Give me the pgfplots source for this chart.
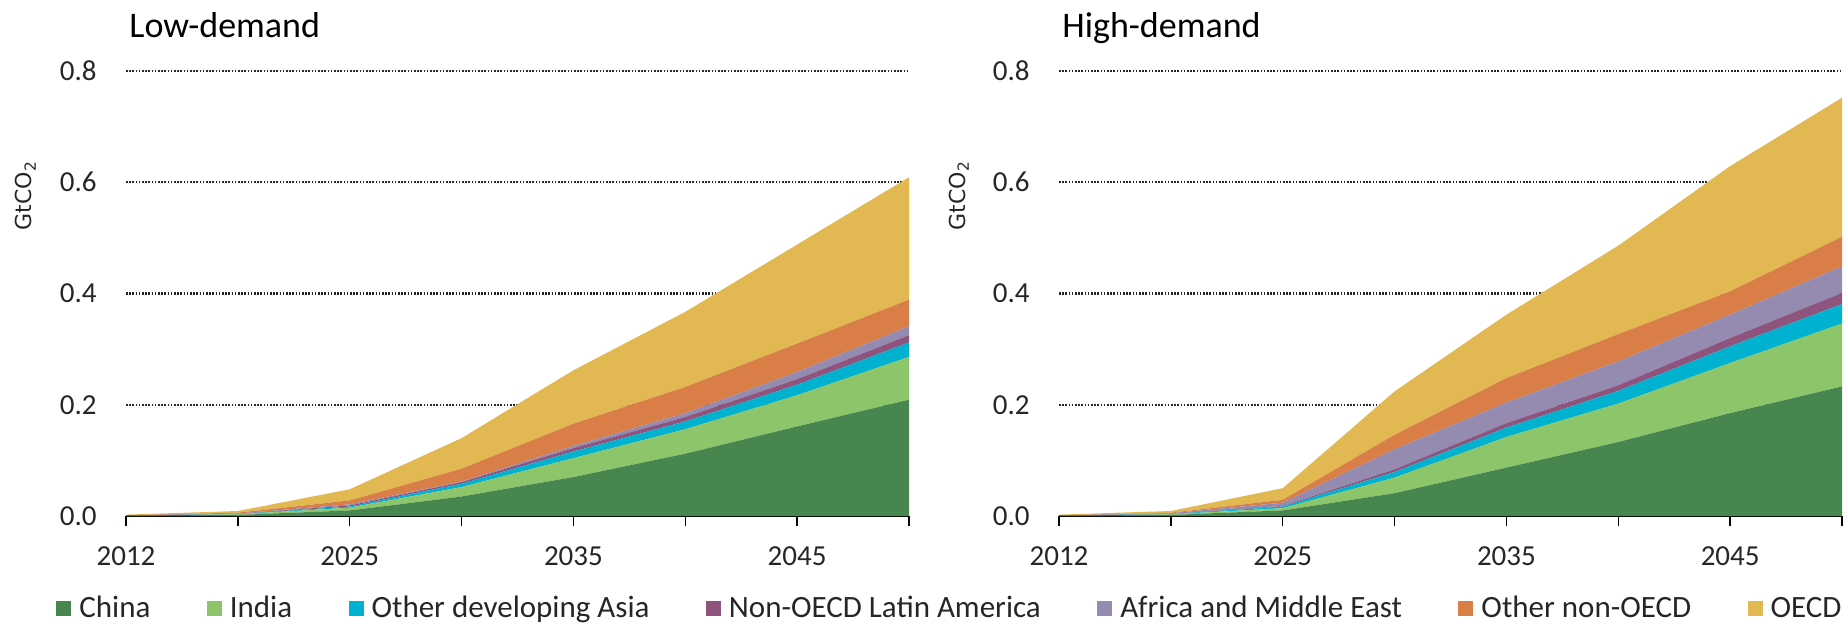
\documentclass[border=0pt]{standalone}
\usepackage{pgfplots}
\pgfplotsset{compat=1.18}
\usepackage{pgfplotstable}
\usepackage{fontspec}
\setmainfont{Carlito}
\newfontfamily\labfont{DejaVu Sans}
\definecolor{cChina}{RGB}{71,134,79}
\definecolor{cIndia}{RGB}{140,197,106}
\definecolor{cODA}{RGB}{0,178,207}
\definecolor{cLat}{RGB}{142,84,125}
\definecolor{cAf}{RGB}{149,139,176}
\definecolor{cOth}{RGB}{216,126,70}
\definecolor{cOECD}{RGB}{226,184,82}
\definecolor{txt}{RGB}{38,38,38}

% increments (stacked), x = category index (2012,2020,2025,...,2050)
\pgfplotstableread{
x china india oda latam afme other oecd
0 0.0005 0.0002 0.0001 0.0001 0.0001 0.0003 0.0012
1 0.002 0.001 0.0005 0.0005 0.0005 0.0015 0.003
2 0.010 0.005 0.002 0.002 0.002 0.007 0.020
3 0.035 0.017 0.006 0.003 0.001 0.023 0.055
4 0.070 0.034 0.012 0.006 0.004 0.040 0.096
5 0.112 0.044 0.014 0.008 0.007 0.047 0.135
6 0.161 0.056 0.019 0.010 0.013 0.051 0.178
7 0.209 0.077 0.026 0.013 0.016 0.048 0.220
}\lowdata
\pgfplotstableread{
x china india oda latam afme other oecd
0 0.0005 0.0002 0.0001 0.0001 0.0001 0.0003 0.0012
1 0.002 0.001 0.0005 0.0005 0.001 0.001 0.003
2 0.010 0.004 0.003 0.001 0.006 0.005 0.021
3 0.041 0.028 0.010 0.005 0.036 0.026 0.078
4 0.087 0.055 0.017 0.008 0.037 0.044 0.114
5 0.133 0.069 0.023 0.010 0.043 0.049 0.159
6 0.185 0.090 0.030 0.015 0.042 0.042 0.225
7 0.233 0.113 0.035 0.020 0.048 0.053 0.250
}\highdata

\pgfplotsset{
  panel/.style={
    at={(#1)}, anchor=south west, scale only axis,
    width=391.5pt, height=222.5pt,
    xmin=0, xmax=7, ymin=0, ymax=0.8,
    stack plots=y,
    axis x line*=bottom, axis y line*=left,
    y axis line style={draw=none},
    x axis line style={line width=0.7pt, black, -},
    xtick={0,1,2,3,4,5,6,7},
    xticklabels={2012,,2025,,2035,,2045,},
    tick align=outside, major tick length=5pt,
    xtick style={black, line width=0.7pt},
    ytick={0,0.2,0.4,0.6,0.8}, ytick style={draw=none},
    ymajorgrids,
    grid style={black!85, line width=1.2pt, dash pattern=on 0.8pt off 0.8pt},
    yticklabel style={/pgf/number format/fixed, /pgf/number format/fixed zerofill,
      /pgf/number format/precision=1, /pgf/number format/assume math mode=true,
      anchor=east, inner sep=0pt, xshift=-9.5pt},
    xticklabel style={anchor=north, inner sep=0pt, yshift=-10pt},
    tick label style={font=\fontsize{14.5}{17}\selectfont, text=txt},
    title style={at={(rel axis cs:0,1)}, anchor=base west, inner sep=0pt,
      xshift=1.5pt, yshift=11pt, font=\fontsize{18}{21}\selectfont, text=black},
    ylabel={\labfont GtCO\textsubscript{2}},
    ylabel style={at={(rel axis cs:-0.128,0.72)}, anchor=center,
      font=\fontsize{11}{13}\selectfont, text=txt},
    every axis plot/.append style={draw=none},
  },
  sq/.style={legend image code/.code={\fill[##1] (0pt,-3.75pt) rectangle (7.5pt,3.75pt);}},
}

\begin{document}
\begin{tikzpicture}
\path[use as bounding box] (0,0) rectangle (924pt,311.5pt);
\begin{axis}[panel={63pt,53.5pt}, title={Low-demand},
  legend columns=7, legend cell align=left,
  legend style={at={(rel axis cs:-0.0894,-0.2080)}, anchor=west,
    draw=none, fill=none, inner sep=0pt, nodes={inner sep=0pt},
    font=\fontsize{15.5}{18}\selectfont, text=txt,
    /tikz/every odd column/.append style={column sep=4pt},
    /tikz/every even column/.append style={column sep=28.2pt}},
]
\addplot[fill=cChina, sq] table[x=x,y=china]{\lowdata} \closedcycle;
\addlegendentry{China}
\addplot[fill=cIndia, sq] table[x=x,y=india]{\lowdata} \closedcycle;
\addlegendentry{India}
\addplot[fill=cODA, sq] table[x=x,y=oda]{\lowdata} \closedcycle;
\addlegendentry{Other developing Asia}
\addplot[fill=cLat, sq] table[x=x,y=latam]{\lowdata} \closedcycle;
\addlegendentry{Non-OECD Latin America}
\addplot[fill=cAf, sq] table[x=x,y=afme]{\lowdata} \closedcycle;
\addlegendentry{Africa and Middle East}
\addplot[fill=cOth, sq] table[x=x,y=other]{\lowdata} \closedcycle;
\addlegendentry{Other non-OECD}
\addplot[fill=cOECD, sq] table[x=x,y=oecd]{\lowdata} \closedcycle;
\addlegendentry{OECD}
\end{axis}
\begin{axis}[panel={529.5pt,53.5pt}, title={High-demand}]
\addplot[fill=cChina] table[x=x,y=china]{\highdata} \closedcycle;
\addplot[fill=cIndia] table[x=x,y=india]{\highdata} \closedcycle;
\addplot[fill=cODA] table[x=x,y=oda]{\highdata} \closedcycle;
\addplot[fill=cLat] table[x=x,y=latam]{\highdata} \closedcycle;
\addplot[fill=cAf] table[x=x,y=afme]{\highdata} \closedcycle;
\addplot[fill=cOth] table[x=x,y=other]{\highdata} \closedcycle;
\addplot[fill=cOECD] table[x=x,y=oecd]{\highdata} \closedcycle;
\end{axis}
\end{tikzpicture}
\end{document}
